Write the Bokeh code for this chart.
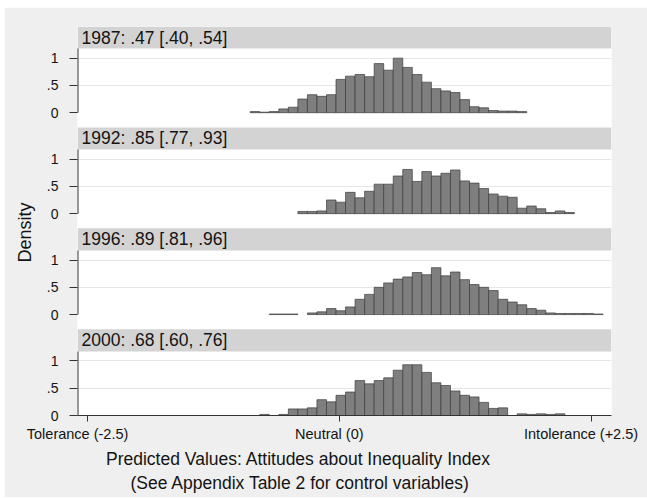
import numpy as np
from bokeh.plotting import figure
from bokeh.models import Range1d, FixedTicker, Title, ColumnDataSource, LinearAxis
from bokeh.core.properties import value
from bokeh.embed import file_html
from bokeh.resources import INLINE

# ---------------- data ----------------
panel_titles = ["1987: .47 [.40, .54]", "1992: .85 [.77, .93]",
                "1996: .89 [.81, .96]", "2000: .68 [.60, .76]"]
bin_start = -0.885
bin_width = 0.0947
first_bin = [0, 5, 2, 1]
dens_1987 = [0.02, 0.01, 0.02, 0.07, 0.10, 0.25, 0.33, 0.30, 0.33, 0.61, 0.67, 0.70,
             0.66, 0.90, 0.78, 1.00, 0.83, 0.70, 0.56, 0.44, 0.40, 0.37, 0.24, 0.11,
             0.09, 0.04, 0.03, 0.03, 0.02]
dens_1992 = [0.04, 0.04, 0.05, 0.25, 0.21, 0.39, 0.29, 0.41, 0.54, 0.54, 0.69, 0.81,
             0.59, 0.77, 0.69, 0.74, 0.80, 0.60, 0.56, 0.46, 0.36, 0.32, 0.30, 0.10,
             0.14, 0.09, 0.02, 0.05, 0.02]
dens_1996 = [0.01, 0.01, 0.01, 0.0, 0.03, 0.05, 0.11, 0.07, 0.14, 0.28, 0.37, 0.50,
             0.58, 0.65, 0.69, 0.77, 0.73, 0.86, 0.71, 0.78, 0.64, 0.55, 0.50, 0.44,
             0.28, 0.23, 0.18, 0.11, 0.08, 0.03, 0.02, 0.02, 0.02, 0.02, 0.01]
dens_2000 = [0.02, 0.0, 0.02, 0.12, 0.12, 0.14, 0.29, 0.25, 0.37, 0.43, 0.64, 0.58,
             0.64, 0.69, 0.83, 0.93, 0.93, 0.79, 0.60, 0.55, 0.45, 0.37, 0.34, 0.24,
             0.13, 0.14, 0.0, 0.03, 0.02, 0.03, 0.02, 0.03]
densities = [dens_1987, dens_1992, dens_1996, dens_2000]
x_tick_values = [-2.5, 0, 2.5]
x_tick_labels = ["Tolerance (-2.5)", "Neutral (0)", "Intolerance (+2.5)"]
y_tick_values = [0, 0.5, 1]
y_tick_labels = ["0", ".5", "1"]
y_title = "Density"
x_title_lines = ["Predicted Values: Attitudes about Inequality Index",
                 "(See Appendix Table 2 for control variables)"]

# ---------------- layout constants ----------------
PITCH = 1.85      # vertical distance between panels (density units)
PLOT_H = 1.175    # height of each plot region
STRIP_H = 0.405   # height of each title strip
X0, X1 = -2.6, 2.703
bases = [3 * PITCH, 2 * PITCH, PITCH, 0.0]
Y1 = round(bases[0] + PLOT_H + STRIP_H, 4)
FW, FH = 534, 389
XPX = FW / (X1 - X0)
LABEL_SHIFT = 10 / XPX   # tick labels sit ~10px left of their ticks in the original

FONT = value("Liberation Sans")
TXT = "#141414"
BG = "#efefef"
STRIP = "#d3d3d3"

p = figure(frame_width=FW, frame_height=FH, min_border_left=73, min_border_right=36,
           min_border_top=19, min_border_bottom=82, x_range=Range1d(X0, X1),
           y_range=Range1d(0, Y1), toolbar_location=None, output_backend="svg",
           background_fill_color="white", border_fill_color=BG, outline_line_color=None)
p.margin = (7, 0, 0, 4)
p.extra_x_ranges = {"lab": Range1d(X0 + LABEL_SHIFT, X1 + LABEL_SHIFT)}

# strips
p.quad(left=[X0] * 4, right=[X1] * 4,
       bottom=[round(b + PLOT_H, 4) for b in bases],
       top=[round(b + PLOT_H + STRIP_H, 4) for b in bases],
       fill_color=STRIP, line_color=None)
p.text(x=[X0] * 4, y=[round(b + PLOT_H + STRIP_H / 2, 4) for b in bases], text=panel_titles,
       x_offset=4, text_baseline="middle", text_align="left", text_font=FONT,
       text_font_size="17.5px", text_color=TXT)

# bars
lefts, rights, bottoms, tops = [], [], [], []
for base, fb, dens in zip(bases, first_bin, densities):
    for i, d in enumerate(dens):
        if d <= 0:
            continue
        k = fb + i
        lefts.append(bin_start + k * bin_width)
        rights.append(bin_start + (k + 1) * bin_width)
        bottoms.append(base)
        tops.append(base + d)
src = ColumnDataSource(dict(left=lefts, right=rights, bottom=bottoms, top=tops))
p.quad(left="left", right="right", bottom="bottom", top="top", source=src,
       fill_color="#7f7f7f", line_color="#3c3c3c", line_width=0.7)

# per-panel y axis lines
p.segment(x0=[X0] * 4, x1=[X0] * 4, y0=bases, y1=[b + PLOT_H for b in bases],
          line_color="#333333", line_width=2)

# y axis ticks / labels
yt, yo, gt = [], {}, []
for b in bases:
    for v, lab in zip(y_tick_values, y_tick_labels):
        t = round(b + v, 4)
        yt.append(t)
        yo[t] = lab
        if v > 0:
            gt.append(t)
p.yaxis.ticker = FixedTicker(ticks=yt)
p.yaxis.major_label_overrides = yo
p.yaxis.axis_line_color = None
p.yaxis.major_tick_out = 8
p.yaxis.major_tick_in = 0
p.yaxis.minor_tick_line_color = None
p.yaxis.major_tick_line_color = "#333333"
p.yaxis.major_label_standoff = 11
p.yaxis.major_label_text_font = "Liberation Sans"
p.yaxis.major_label_text_font_size = "14px"
p.yaxis.major_label_text_color = TXT
p.ygrid.ticker = FixedTicker(ticks=gt)
p.ygrid.grid_line_color = "#e6e6e6"
p.xgrid.grid_line_color = None

# x axis: ticks on the main axis ...
p.xaxis.ticker = FixedTicker(ticks=x_tick_values)
p.xaxis.major_label_overrides = {v: "" for v in x_tick_values}
p.xaxis.major_label_text_font_size = "0px"
p.xaxis.major_label_standoff = 0
p.xaxis.axis_line_color = "#333333"
p.xaxis.major_tick_line_color = "#333333"
p.xaxis.major_tick_out = 6
p.xaxis.major_tick_in = 0
p.xaxis.minor_tick_line_color = None

# ... and the tick labels on a companion axis (shifted like the original)
lab_axis = LinearAxis(x_range_name="lab", ticker=FixedTicker(ticks=x_tick_values),
                      major_label_overrides=dict(zip(x_tick_values, x_tick_labels)),
                      axis_line_color=None, major_tick_line_color=None,
                      minor_tick_line_color=None, major_tick_out=0, major_tick_in=0,
                      major_label_standoff=4, major_label_text_font="Liberation Sans",
                      major_label_text_font_size="14.5px", major_label_text_color=TXT)
p.add_layout(lab_axis, "below")

# axis titles (offsets in px from the frame's left / bottom edge)
for txt, off, so in zip(x_title_lines, [28.5, 53], [4, 0]):
    p.add_layout(Title(text=txt, align="left", offset=off, standoff=so,
                       text_font="Liberation Sans", text_font_size="17.5px",
                       text_font_style="normal", text_color=TXT), "below")
p.add_layout(Title(text=y_title, align="left", offset=153, standoff=17,
                   text_font="Liberation Sans", text_font_size="18px",
                   text_font_style="normal", text_color=TXT), "left")

open("out.html", "w").write(file_html(p, INLINE))
